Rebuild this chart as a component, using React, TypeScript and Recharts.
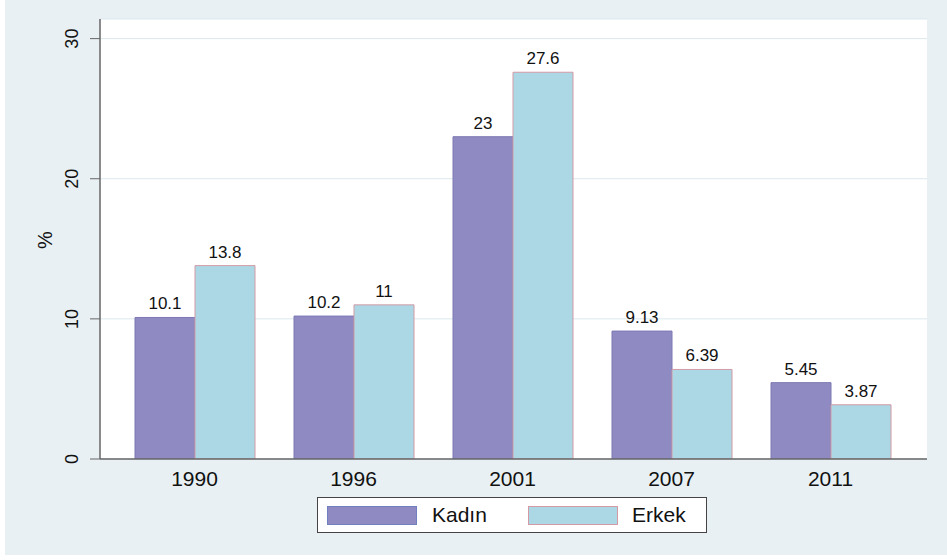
import React from "react";
import { BarChart, Bar, XAxis, YAxis, CartesianGrid, LabelList } from "recharts";

const years = ["1990", "1996", "2001", "2007", "2011"];
const kadin = [10.1, 10.2, 23, 9.13, 5.45];
const erkek = [13.8, 11, 27.6, 6.39, 3.87];
const yTicks = [0, 10, 20, 30];

const data = years.map((y, i) => ({ year: y, kadin: kadin[i], erkek: erkek[i] }));

const FONT = "'Liberation Sans', Arial, Helvetica, sans-serif";
const PANEL = "#e8f0f3";

const YTick = (props: any) => {
  const { x, y, payload } = props;
  return (
    <text
      x={x - 10}
      y={y}
      transform={`rotate(-90 ${x - 10} ${y})`}
      textAnchor="middle"
      fontSize={18}
      fontFamily={FONT}
      fill="#111"
    >
      {payload.value}
    </text>
  );
};

const XTick = (props: any) => {
  const { x, payload } = props;
  return (
    <text x={x} y={486} textAnchor="middle" fontSize={21} fontFamily={FONT} fill="#111">
      {payload.value}
    </text>
  );
};

const YLabel = () => (
  <text x={52} y={240} transform="rotate(-90 52 240)" textAnchor="middle" fontSize={20} fontFamily={FONT} fill="#111">
    %
  </text>
);

export default function App() {
  return (
    <div style={{ position: "absolute", left: 0, top: 0, width: 947, height: 560, background: "#fff" }}>
      <div style={{ position: "absolute", left: 5, top: 0, width: 942, height: 555, background: PANEL }} />
      <div style={{ position: "absolute", left: 0, top: 0 }}>
        <BarChart
          width={947}
          height={560}
          data={data}
          margin={{ top: 19, right: 20, left: 0, bottom: 61 }}
          barGap={0}
          barSize={60}
        >
          <CartesianGrid vertical={false} stroke="#dbe8ee" fill="#ffffff" />
          <XAxis
            dataKey="year"
            height={40}
            padding={{ left: 15, right: 17 }}
            tickLine={false}
            axisLine={{ stroke: "#666", strokeWidth: 1.5 }}
            tick={<XTick />}
            interval={0}
          />
          <YAxis
            width={100}
            domain={[0, 31.4]}
            ticks={yTicks}
            tickSize={10}
            tickLine={{ stroke: "#666" }}
            axisLine={{ stroke: "#666", strokeWidth: 1.5 }}
            tick={<YTick />}
            allowDataOverflow
          />
          <Bar dataKey="kadin" name="Kadın" fill="#8f8bc2" stroke="#7d79b3" strokeWidth={1} isAnimationActive={false}>
            <LabelList dataKey="kadin" position="top" offset={8} fontSize={17} fontFamily={FONT} fill="#111" />
          </Bar>
          <Bar dataKey="erkek" name="Erkek" fill="#acd8e6" stroke="#d39aa6" strokeWidth={1} isAnimationActive={false}>
            <LabelList dataKey="erkek" position="top" offset={8} fontSize={17} fontFamily={FONT} fill="#111" />
          </Bar>
          <YLabel />
        </BarChart>
      </div>
      <div
        style={{
          position: "absolute",
          left: 317,
          top: 497,
          width: 388,
          height: 34,
          border: "1px solid #444",
          background: "#fff",
          fontFamily: FONT,
          fontSize: 21,
          color: "#111",
        }}
      >
        <div style={{ position: "absolute", left: 9, top: 8, width: 88, height: 17, background: "#8f8bc2", border: "1px solid #6f7fc0" }} />
        <div style={{ position: "absolute", left: 114, top: 4, lineHeight: "26px" }}>Kadın</div>
        <div style={{ position: "absolute", left: 210, top: 8, width: 88, height: 17, background: "#acd8e6", border: "1px solid #d39aa6" }} />
        <div style={{ position: "absolute", left: 314, top: 4, lineHeight: "26px" }}>Erkek</div>
      </div>
    </div>
  );
}
